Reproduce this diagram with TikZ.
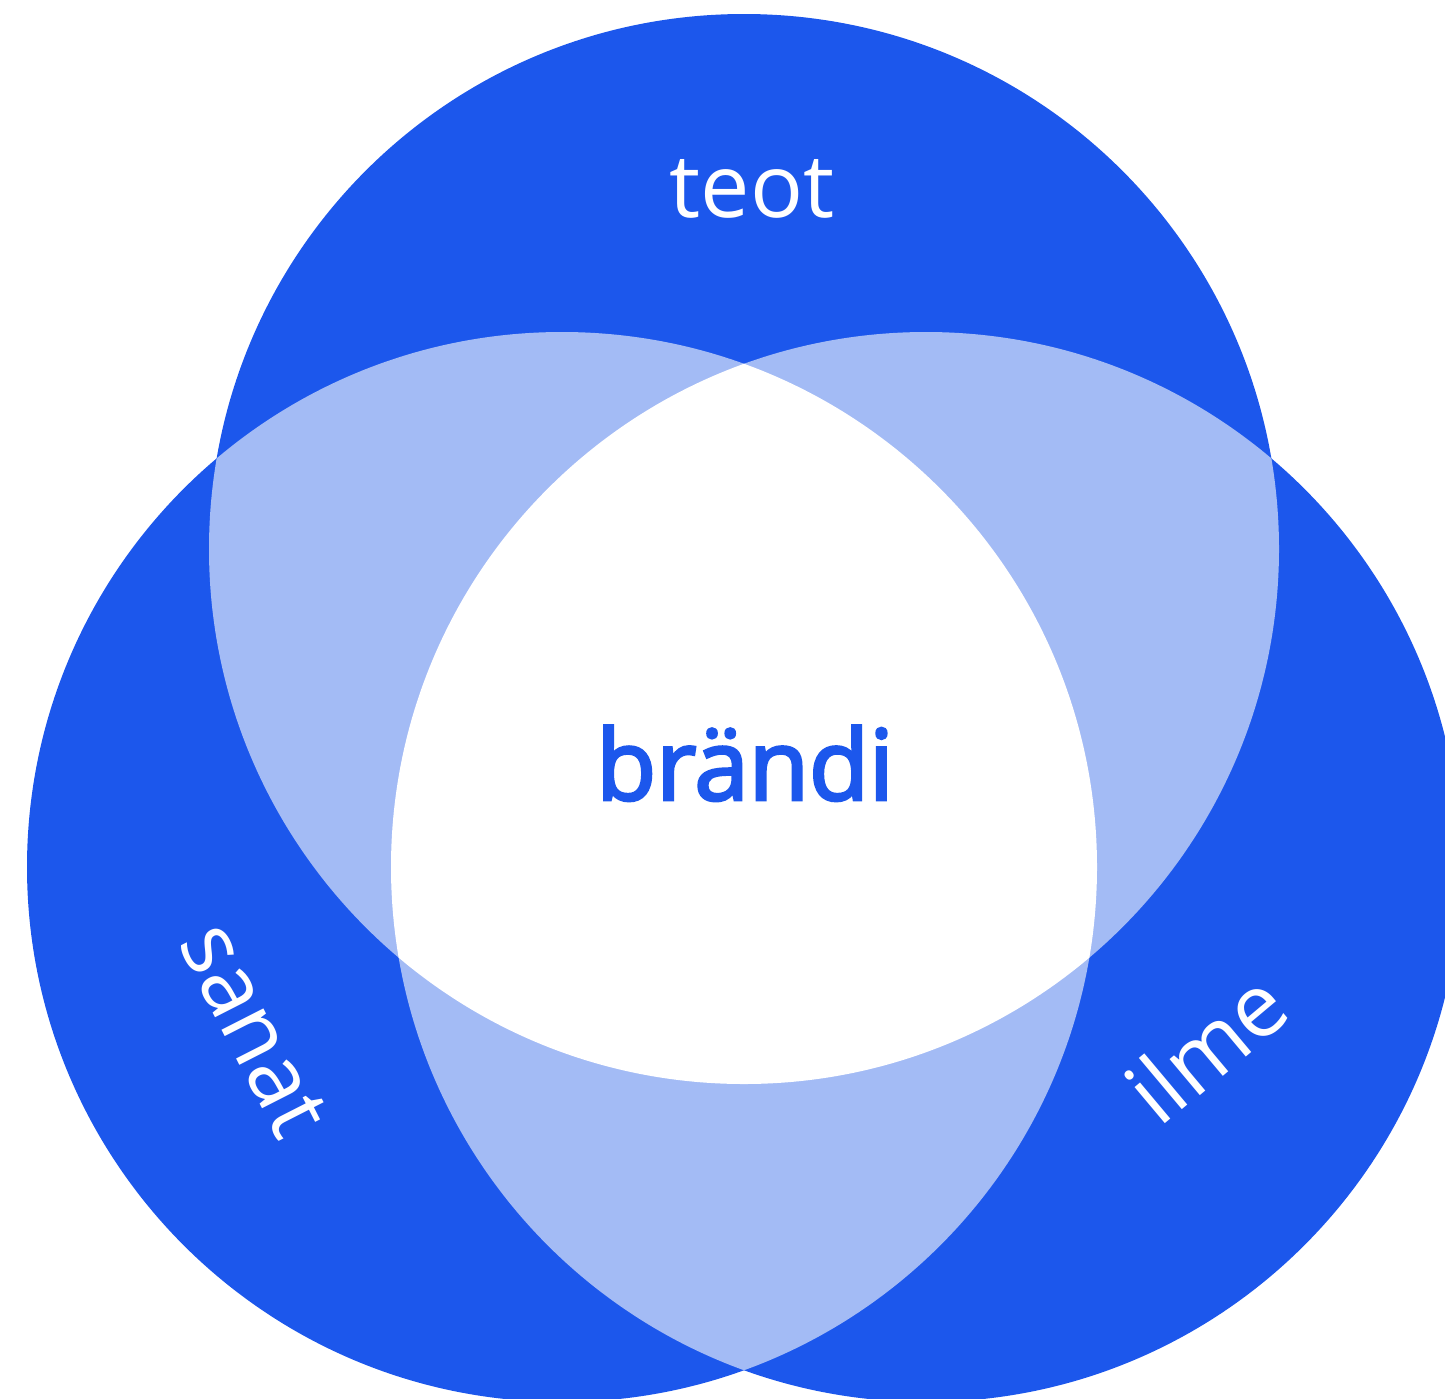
\documentclass[tikz,border=0pt]{standalone}
\usepackage{fontspec}
\setmainfont{Open Sans}
\newfontfamily\medfont[FakeBold=3]{Open Sans}
\definecolor{dblue}{RGB}{28,87,236}
\definecolor{lblue}{RGB}{163,187,245}
\begin{document}
\begin{tikzpicture}[x=1pt,y=-1pt,
  lbl/.style={text=white,font=\fontsize{88}{88}\selectfont,inner sep=0pt},
  ctr/.style={text=dblue,font=\medfont\fontsize{98}{98}\selectfont,inner sep=0pt}]
\useasboundingbox (0,0) rectangle (1445,1398);
\def\cA{(744,549) circle[radius=535pt]}
\def\cB{(562,867) circle[radius=535pt]}
\def\cC{(926,867) circle[radius=535pt]}
\fill[dblue] \cA; \fill[dblue] \cB; \fill[dblue] \cC;
\begin{scope}\clip \cA; \fill[lblue] \cB; \fill[lblue] \cC;\end{scope}
\begin{scope}\clip \cB; \fill[lblue] \cC;\end{scope}
\begin{scope}\clip \cA; \clip \cB; \fill[white] \cC;\end{scope}
\node[lbl,anchor=base] (teot) at (752,217) {teot};
\node[ctr,anchor=base] (brandi) at (745,800) {brändi};
\node[lbl,rotate=-63] (sanat) at (254,1030) {sanat};
\node[lbl,rotate=40] (ilme) at (1206,1047) {ilme};
\end{tikzpicture}
\end{document}
